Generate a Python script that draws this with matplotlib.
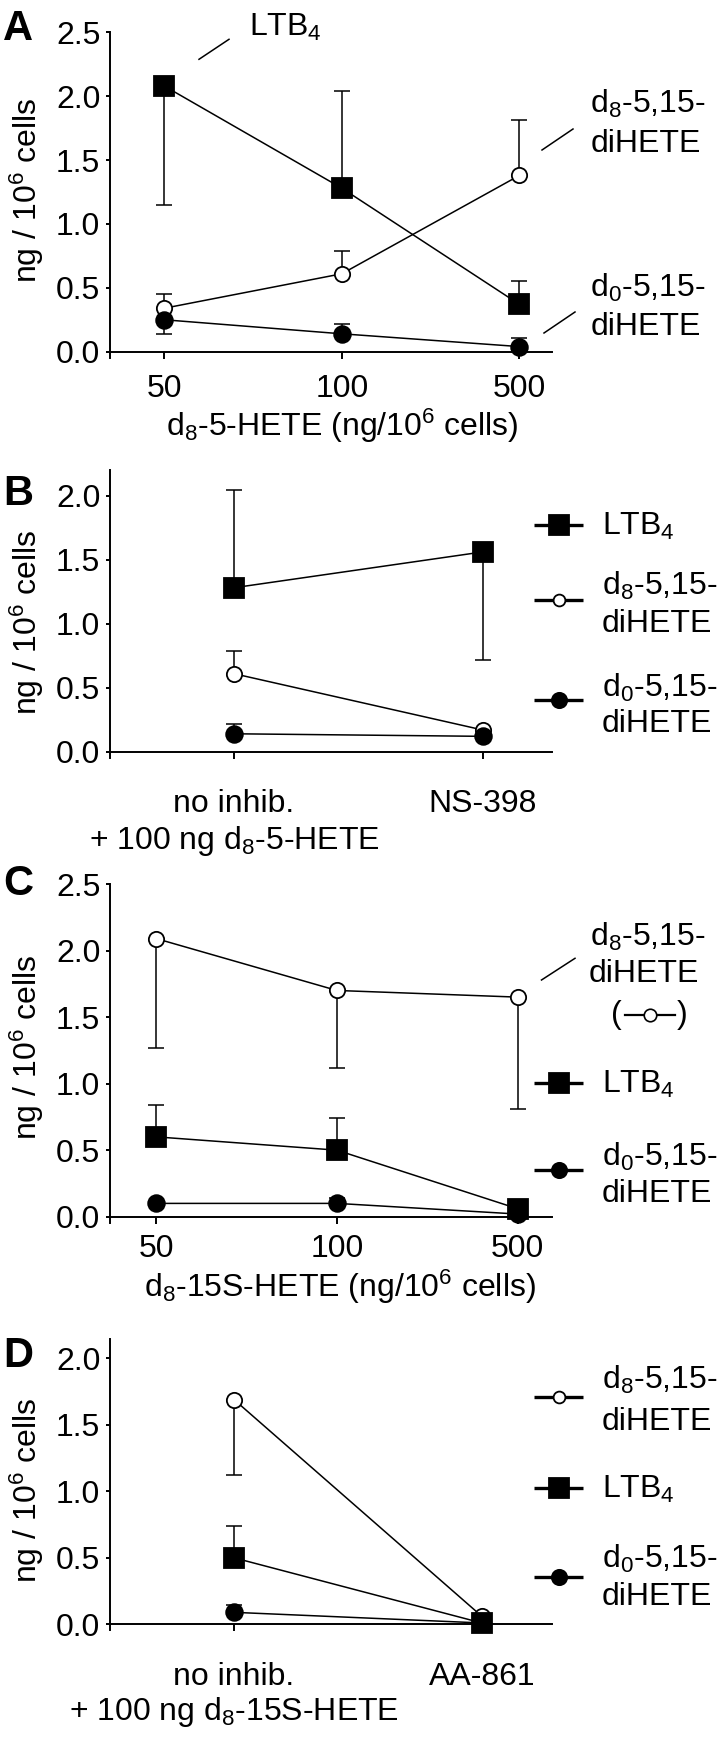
import matplotlib

matplotlib.use("Agg")
import matplotlib.pyplot as plt  # noqa: E402
from matplotlib.lines import Line2D  # noqa: E402

plt.rcParams["font.family"] = ["Liberation Sans", "DejaVu Sans"]
plt.rcParams["mathtext.default"] = "regular"
plt.rcParams["font.size"] = 23

W, H = 719, 1737

# ---- panel A: d8-5-HETE dose ----
a_cats = ["50", "100", "500"]
a_ltb4 = [2.08, 1.28, 0.37]
a_ltb4_lo = [0.93, 0.0, 0.0]
a_ltb4_hi = [0.0, 0.76, 0.18]
a_d8 = [0.34, 0.61, 1.38]
a_d8_lo = [0.0, 0.0, 0.0]
a_d8_hi = [0.11, 0.18, 0.43]
a_d0 = [0.25, 0.14, 0.04]
a_d0_lo = [0.11, 0.0, 0.0]
a_d0_hi = [0.0, 0.08, 0.07]

# ---- panel B: inhibitor, + 100 ng d8-5-HETE ----
b_cats = ["no inhib.", "NS-398"]
b_ltb4 = [1.28, 1.56]
b_ltb4_lo = [0.0, 0.84]
b_ltb4_hi = [0.76, 0.0]
b_d8 = [0.61, 0.17]
b_d8_lo = [0.0, 0.0]
b_d8_hi = [0.18, 0.0]
b_d0 = [0.14, 0.12]
b_d0_lo = [0.0, 0.0]
b_d0_hi = [0.08, 0.0]

# ---- panel C: d8-15S-HETE dose ----
c_cats = ["50", "100", "500"]
c_d8 = [2.09, 1.70, 1.65]
c_d8_lo = [0.82, 0.58, 0.84]
c_d8_hi = [0.0, 0.0, 0.0]
c_ltb4 = [0.60, 0.50, 0.06]
c_ltb4_lo = [0.0, 0.0, 0.0]
c_ltb4_hi = [0.24, 0.24, 0.0]
c_d0 = [0.10, 0.10, 0.02]
c_d0_lo = [0.0, 0.0, 0.0]
c_d0_hi = [0.0, 0.04, 0.0]

# ---- panel D: inhibitor, + 100 ng d8-15S-HETE ----
d_cats = ["no inhib.", "AA-861"]
d_d8 = [1.69, 0.06]
d_d8_lo = [0.57, 0.0]
d_d8_hi = [0.0, 0.0]
d_ltb4 = [0.50, 0.01]
d_ltb4_lo = [0.0, 0.0]
d_ltb4_hi = [0.24, 0.0]
d_d0 = [0.09, 0.01]
d_d0_lo = [0.0, 0.0]
d_d0_hi = [0.055, 0.0]

LW = 1.1
SPINE = 1.4


def fx(px):
    return px / W


def fy(py):
    return 1 - py / H


def add_axes(fig, left, top, right, bottom):
    return fig.add_axes([fx(left), fy(bottom), (right - left) / W, (bottom - top) / H])


def style(ax, cats, xlim, ylim, yticks, xpad, px_per_unit):
    for s in ("top", "right"):
        ax.spines[s].set_visible(False)
    for s in ("left", "bottom"):
        ax.spines[s].set_linewidth(SPINE)
    ax.set_xlim(*xlim)
    ax.set_ylim(*ylim)
    # y axis runs a few pixels past the x axis, as in the original
    ax.spines["left"].set_bounds(-6 / px_per_unit, ylim[1])
    ax.set_xticks(range(len(cats)), cats)
    ax.set_yticks(yticks, [f"{v:.1f}" for v in yticks])
    ax.tick_params(axis="y", length=3, width=SPINE, pad=4)
    ax.tick_params(axis="x", length=5, width=SPINE, pad=xpad)
    ax.patch.set_alpha(0)


def series(ax, y, lo, hi, marker, mfc, ms, z):
    x = list(range(len(y)))
    ax.errorbar(x, y, yerr=[lo, hi], fmt="none", ecolor="black", elinewidth=LW,
                capsize=5.5, capthick=LW, zorder=z)
    ax.plot(x, y, color="black", lw=LW, marker=marker, ms=ms, mfc=mfc, mec="black",
            mew=1.3, zorder=z + 0.5, clip_on=False)


def ftext(fig, x, y, s, **kw):
    fig.text(fx(x), fy(y), s, va="baseline", **kw)


def fline(fig, x0, y0, x1, y1):
    fig.add_artist(Line2D([fx(x0), fx(x1)], [fy(y0), fy(y1)], color="black", lw=LW,
                          transform=fig.transFigure))


def handle(fig, y, marker, mfc, ms):
    fig.add_artist(Line2D([fx(534), fx(583)], [fy(y), fy(y)], color="black", lw=2.4,
                          transform=fig.transFigure, solid_capstyle="butt"))
    fig.add_artist(Line2D([fx(559)], [fy(y)], color="black", lw=0, marker=marker, ms=ms,
                          mfc=mfc, mec="black", mew=1.3, transform=fig.transFigure))


YLAB = "ng / 10$^6$ cells"
SQ, OC, FC = 14, 11, 12

fig = plt.figure(figsize=(W / 100, H / 100), dpi=100)

# A
ax = add_axes(fig, 110, 32.3, 552, 351.7)
style(ax, a_cats, (-0.305, 2.183), (0, 2.5), [0, 0.5, 1.0, 1.5, 2.0, 2.5], 11, 127.8)
series(ax, a_ltb4, a_ltb4_lo, a_ltb4_hi, "s", "black", SQ, 2)
series(ax, a_d8, a_d8_lo, a_d8_hi, "o", "white", OC, 3)
series(ax, a_d0, a_d0_lo, a_d0_hi, "o", "black", FC, 4)
ax.set_xlabel("d$_8$-5-HETE (ng/10$^6$ cells)")
ax.xaxis.label.set_va("baseline")
ax.xaxis.set_label_coords(0.525, (351.7 - 436) / (351.7 - 32.3))
ax.set_ylabel(YLAB, va="center", ha="center")
ax.yaxis.set_label_coords((27 - 110) / 442, (351.7 - 190) / (351.7 - 32.3))
ftext(fig, 3, 40, "A", fontsize=30, fontweight="bold")
ftext(fig, 249, 36, "LTB$_4$")
fline(fig, 199, 59.3, 229, 39.3)
ftext(fig, 590, 113, "d$_8$-5,15-")
ftext(fig, 591, 152, "diHETE")
fline(fig, 542, 150, 573, 129)
ftext(fig, 590, 297, "d$_0$-5,15-")
ftext(fig, 591, 335, "diHETE")
fline(fig, 544, 333, 575, 312)

# B
ax = add_axes(fig, 110, 470, 552, 751.7)
style(ax, b_cats, (-0.496, 1.279), (0, 2.2), [0, 0.5, 1.0, 1.5, 2.0], 22, 128)
series(ax, b_ltb4, b_ltb4_lo, b_ltb4_hi, "s", "black", SQ, 2)
series(ax, b_d8, b_d8_lo, b_d8_hi, "o", "white", OC, 3)
series(ax, b_d0, b_d0_lo, b_d0_hi, "o", "black", FC, 4)
ax.set_xlabel("+ 100 ng d$_8$-5-HETE")
ax.xaxis.label.set_va("baseline")
ax.xaxis.set_label_coords((234 - 110) / 442, (751.7 - 849) / (751.7 - 470))
ax.set_ylabel(YLAB, va="center", ha="center")
ax.yaxis.set_label_coords((27 - 110) / 442, (751.7 - 622) / (751.7 - 470))
ftext(fig, 3, 505, "B", fontsize=30, fontweight="bold")
handle(fig, 525, "s", "black", SQ)
ftext(fig, 602, 535, "LTB$_4$")
handle(fig, 600, "o", "white", 8.5)
ftext(fig, 602, 595, "d$_8$-5,15-")
ftext(fig, 602, 632, "diHETE")
handle(fig, 700, "o", "black", 11)
ftext(fig, 602, 697, "d$_0$-5,15-")
ftext(fig, 602, 732, "diHETE")

# C
ax = add_axes(fig, 110, 884, 552, 1216.7)
style(ax, c_cats, (-0.255, 2.19), (0, 2.5), [0, 0.5, 1.0, 1.5, 2.0, 2.5], 7.5, 133)
series(ax, c_d8, c_d8_lo, c_d8_hi, "o", "white", OC, 2)
series(ax, c_d0, c_d0_lo, c_d0_hi, "o", "black", FC, 3)
series(ax, c_ltb4, c_ltb4_lo, c_ltb4_hi, "s", "black", SQ, 4)
ax.set_xlabel("d$_8$-15S-HETE (ng/10$^6$ cells)")
ax.xaxis.label.set_va("baseline")
ax.xaxis.set_label_coords(0.52, (1216.7 - 1297) / (1216.7 - 884))
ax.set_ylabel(YLAB, va="center", ha="center")
ax.yaxis.set_label_coords((27 - 110) / 442, (1216.7 - 1047) / (1216.7 - 884))
ftext(fig, 3, 895, "C", fontsize=30, fontweight="bold")
ftext(fig, 590, 946, "d$_8$-5,15-")
ftext(fig, 589, 982, "diHETE")
fline(fig, 541.5, 980, 575, 958.3)
ftext(fig, 611, 1023, "(")
ftext(fig, 688, 1023, ")", ha="right")
fig.add_artist(Line2D([fx(625), fx(675)], [fy(1015), fy(1015)], color="black", lw=1.6,
                      transform=fig.transFigure))
fig.add_artist(Line2D([fx(650)], [fy(1015)], lw=0, marker="o", ms=9, mfc="white",
                      mec="black", mew=1.2, transform=fig.transFigure))
handle(fig, 1083.3, "s", "black", SQ)
ftext(fig, 602, 1093, "LTB$_4$")
handle(fig, 1170, "o", "black", 11)
ftext(fig, 602, 1166, "d$_0$-5,15-")
ftext(fig, 602, 1202, "diHETE")

# D
ax = add_axes(fig, 110, 1339, 552, 1624.3)
style(ax, d_cats, (-0.5, 1.283), (0, 2.145), [0, 0.5, 1.0, 1.5, 2.0], 22, 133)
series(ax, d_d8, d_d8_lo, d_d8_hi, "o", "white", OC, 2)
series(ax, d_d0, d_d0_lo, d_d0_hi, "o", "black", FC, 3)
series(ax, d_ltb4, d_ltb4_lo, d_ltb4_hi, "s", "black", SQ, 4)
ax.set_xlabel("+ 100 ng d$_8$-15S-HETE")
ax.xaxis.label.set_va("baseline")
ax.xaxis.set_label_coords((234 - 110) / 442, (1624.3 - 1720) / (1624.3 - 1339))
ax.set_ylabel(YLAB, va="center", ha="center")
ax.yaxis.set_label_coords((27 - 110) / 442, (1624.3 - 1490) / (1624.3 - 1339))
ftext(fig, 3, 1367, "D", fontsize=30, fontweight="bold")
handle(fig, 1396.7, "o", "white", 8.5)
ftext(fig, 602, 1389, "d$_8$-5,15-")
ftext(fig, 602, 1430, "diHETE")
handle(fig, 1488.3, "s", "black", SQ)
ftext(fig, 602, 1498, "LTB$_4$")
handle(fig, 1576.7, "o", "black", 11)
ftext(fig, 602, 1568, "d$_0$-5,15-")
ftext(fig, 602, 1605, "diHETE")

fig.savefig("out.png", dpi=100, facecolor="white")
plt.close(fig)
